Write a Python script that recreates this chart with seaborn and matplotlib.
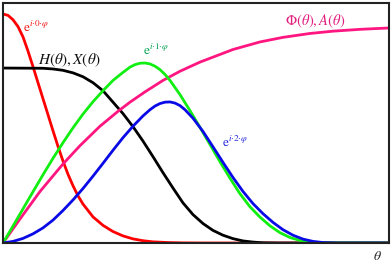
"""Recreate the basis-function curve chart."""

import matplotlib

matplotlib.use("Agg")
import matplotlib.pyplot as plt
import pandas as pd
import seaborn as sns

# --- data (theta, value) ---
red_t = [0, 0.05, 0.1, 0.15, 0.2, 0.25, 0.3, 0.35, 0.4, 0.45, 0.5, 0.55, 0.6,
         0.65, 0.7, 0.75, 0.8, 0.9, 1.0, 1.1, 1.2, 1.3, 1.4, 1.5, 1.65, 1.8,
         2.0, 3.86]
red_y = [1.0, 0.994, 0.975, 0.945, 0.9, 0.838, 0.77, 0.7, 0.63, 0.56, 0.49,
         0.422, 0.358, 0.3, 0.25, 0.206, 0.17, 0.114, 0.077, 0.05, 0.031, 0.018,
         0.01, 0.005, 0.002, 0.0005, 0, 0]

black_t = [0, 0.4, 0.5, 0.6, 0.7, 0.8, 0.9, 1.0, 1.1, 1.2, 1.3, 1.4, 1.5, 1.6,
           1.7, 1.8, 1.9, 2.0, 2.1, 2.2, 2.3, 2.4, 2.5, 2.6, 2.75, 3.86]
black_y = [0.764, 0.763, 0.76, 0.754, 0.743, 0.726, 0.7, 0.665, 0.615, 0.565,
           0.508, 0.445, 0.377, 0.307, 0.24, 0.175, 0.124, 0.085, 0.055, 0.034,
           0.019, 0.009, 0.004, 0.001, 0, 0]

green_t = [0, 0.1, 0.2, 0.3, 0.4, 0.5, 0.6, 0.7, 0.8, 0.9, 1.0, 1.1, 1.2, 1.27,
           1.32, 1.37, 1.42, 1.47, 1.52, 1.57, 1.62, 1.67, 1.77, 1.87, 1.97,
           2.07, 2.17, 2.27, 2.37, 2.47, 2.57, 2.67, 2.77, 2.87, 2.97, 3.07,
           3.2, 3.86]
green_y = [0, 0.074, 0.149, 0.224, 0.298, 0.37, 0.438, 0.503, 0.563, 0.617,
           0.665, 0.71, 0.745, 0.768, 0.779, 0.785, 0.786, 0.782, 0.772, 0.757,
           0.736, 0.71, 0.648, 0.578, 0.505, 0.43, 0.355, 0.283, 0.215, 0.158,
           0.113, 0.075, 0.045, 0.024, 0.011, 0.004, 0.0005, 0]

blue_t = [0, 0.1, 0.2, 0.3, 0.4, 0.5, 0.6, 0.7, 0.8, 0.9, 1.0, 1.1, 1.2, 1.3,
          1.4, 1.47, 1.52, 1.57, 1.62, 1.67, 1.72, 1.77, 1.82, 1.9, 2.0, 2.1,
          2.2, 2.3, 2.4, 2.5, 2.6, 2.7, 2.8, 2.9, 3.0, 3.1, 3.2, 3.35, 3.86]
blue_y = [0, 0.007, 0.02, 0.04, 0.066, 0.1, 0.142, 0.188, 0.238, 0.292, 0.348,
          0.405, 0.46, 0.51, 0.555, 0.582, 0.598, 0.609, 0.615, 0.616, 0.611,
          0.6, 0.582, 0.545, 0.487, 0.42, 0.352, 0.286, 0.225, 0.172, 0.128,
          0.09, 0.058, 0.034, 0.017, 0.007, 0.002, 0, 0]

pink_t = [0, 0.17, 0.37, 0.6, 0.77, 0.97, 1.15, 1.27, 1.42, 1.6, 1.77, 1.97,
          2.3, 2.57, 2.8, 3.07, 3.3, 3.57, 3.86]
pink_y = [0, 0.105, 0.225, 0.345, 0.425, 0.51, 0.575, 0.615, 0.66, 0.71, 0.75,
          0.79, 0.845, 0.878, 0.898, 0.915, 0.925, 0.933, 0.939]

curves = [
    (red_t, red_y, "#ff0000"),
    (black_t, black_y, "#000000"),
    (pink_t, pink_y, "#ff1680"),
    (green_t, green_y, "#11ee11"),
    (blue_t, blue_y, "#0a0ae6"),
]

labels = [
    (0.335, 0.941, r"$\mathrm{e}^{i{\cdot}0{\cdot}\varphi}$", "#ee1111", 9.5),
    (0.665, 0.797, r"$H(\theta), X(\theta)$", "#111111", 11),
    (1.53, 0.843, r"$\mathrm{e}^{i{\cdot}1{\cdot}\varphi}$", "#00a050", 9.5),
    (3.12, 0.967, r"$\Phi(\theta), A(\theta)$", "#e0207f", 10.5),
    (2.32, 0.439, r"$\mathrm{e}^{i{\cdot}2{\cdot}\varphi}$", "#2222dd", 9.5),
]


def main():
    sns.set_style("white")
    plt.rcParams["mathtext.fontset"] = "stix"
    plt.rcParams["font.family"] = ["DejaVu Serif"]

    fig = plt.figure(figsize=(3.92, 2.62), dpi=100)
    ax = fig.add_axes([3 / 392, 19 / 262, 386 / 392, 240 / 262])

    for t, y, color in curves:
        df = pd.DataFrame({"theta": t, "value": y})
        sns.lineplot(data=df, x="theta", y="value", ax=ax, color=color,
                     linewidth=2.0, sort=False, estimator=None)

    for x, y, txt, color, size in labels:
        ax.text(x, y, txt, color=color, fontsize=size, ha="center", va="center")

    ax.text(3.74, -0.057, r"$\theta$", fontsize=10, ha="center", va="center",
            clip_on=False)

    ax.set_xlim(0, 3.86)
    ax.set_ylim(0, 240 / 229)
    ax.set_xticks([])
    ax.set_yticks([])
    ax.set_xlabel("")
    ax.set_ylabel("")
    for sp in ax.spines.values():
        sp.set_color("#222222")
        sp.set_linewidth(1.5)

    fig.savefig("out.png", dpi=100)
    plt.close(fig)


if __name__ == "__main__":
    main()
